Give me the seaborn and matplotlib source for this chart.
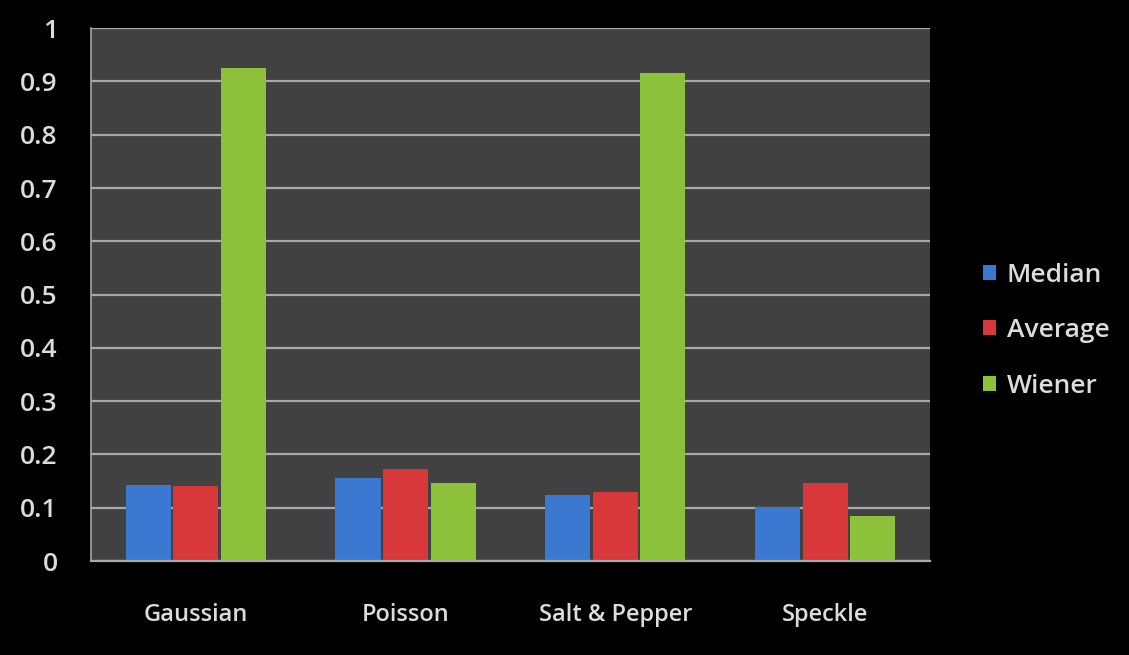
import numpy as np
import pandas as pd
import matplotlib.pyplot as plt
import seaborn as sns

# values
categories = ["Gaussian", "Poisson", "Salt & Pepper", "Speckle"]
filters = ["Median", "Average", "Wiener"]
median = [0.142, 0.156, 0.124, 0.101]
average = [0.141, 0.173, 0.129, 0.146]
wiener = [0.925, 0.146, 0.915, 0.084]
yticks = [0, 0.1, 0.2, 0.3, 0.4, 0.5, 0.6, 0.7, 0.8, 0.9, 1]
ytick_labels = ["0", "0.1", "0.2", "0.3", "0.4", "0.5", "0.6", "0.7", "0.8", "0.9", "1"]

colors = ["#3a78d2", "#d8383a", "#8cc13a"]

df = pd.DataFrame({
    "noise": categories * 3,
    "filter": [f for f in filters for _ in categories],
    "value": median + average + wiener,
})

sns.set_style("dark")
plt.rcParams["font.family"] = ["Open Sans", "DejaVu Sans"]
txt = "#dcdcdc"

fig = plt.figure(figsize=(11.29, 6.55), dpi=100)
fig.patch.set_facecolor("black")
ax = fig.add_axes([0.0806, 0.1435, 0.7431, 0.8135])
ax.set_facecolor("#414141")

sns.barplot(data=df, x="noise", y="value", hue="filter", palette=colors,
            width=0.68, gap=0.05, ax=ax, linewidth=0, saturation=1)

ax.set_ylim(0, 1)
ax.set_xlim(-0.5, 3.5)
ax.set_yticks(yticks)
ax.set_yticklabels(ytick_labels)
ax.yaxis.grid(True, color="#a8a8a8", linewidth=1.6)
ax.xaxis.grid(False)
ax.set_axisbelow(True)
ax.set_xlabel("")
ax.set_ylabel("")

# category boundaries as tick marks on the x axis
ax.set_xticks([-0.5, 0.5, 1.5, 2.5, 3.5], minor=True)
ax.tick_params(axis="x", which="major", length=0, pad=30, labelsize=17,
               labelcolor=txt)
ax.tick_params(axis="x", which="minor", length=8, width=1.2, color="#a8a8a8",
               direction="out")
ax.tick_params(axis="y", length=8, width=1.2, color="#a8a8a8", direction="out",
               pad=16, labelsize=19, labelcolor=txt)
for t in ax.get_yticklabels() + ax.get_xticklabels():
    t.set_fontweight("semibold")

for s in ["top", "right"]:
    ax.spines[s].set_visible(False)
ax.spines["left"].set_color("#a8a8a8")
ax.spines["bottom"].set_color("#a8a8a8")
ax.spines["left"].set_linewidth(1.2)
ax.spines["bottom"].set_linewidth(1.6)

leg = ax.legend(loc="center left", bbox_to_anchor=(1.035, 0.432), frameon=False,
                prop={"size": 19, "weight": "semibold"}, labelspacing=1.15,
                handlelength=0.5, handleheight=0.5, handletextpad=0.4)
for t in leg.get_texts():
    t.set_color(txt)

fig.savefig("out.png", dpi=100, facecolor="black")
